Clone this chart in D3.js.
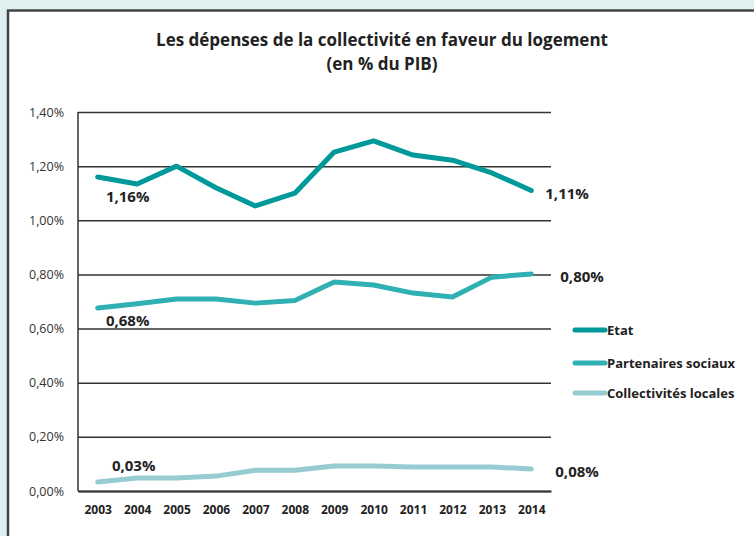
<!DOCTYPE html>
<html>
<head>
<meta charset="utf-8">
<script src="https://cdn.jsdelivr.net/npm/d3@7"></script>
<style>
  html, body { margin: 0; padding: 0; background: #dff0f0; }
  svg { display: block; font-family: "Open Sans", "Noto Sans", sans-serif; }
</style>
</head>
<body>
<div id="chart"></div>
<script>
const years = ["2003", "2004", "2005", "2006", "2007", "2008", "2009", "2010", "2011", "2012", "2013", "2014"];
const etat = [1.16, 1.134, 1.20, 1.12, 1.053, 1.10, 1.252, 1.293, 1.241, 1.222, 1.175, 1.11];
const partenaires = [0.676, 0.692, 0.709, 0.709, 0.694, 0.704, 0.772, 0.761, 0.731, 0.717, 0.79, 0.802];
const collectivites = [0.033, 0.048, 0.048, 0.055, 0.077, 0.077, 0.092, 0.092, 0.089, 0.089, 0.089, 0.081];
const yTicks = [0, 0.2, 0.4, 0.6, 0.8, 1.0, 1.2, 1.4];
const seriesNames = ["Etat", "Partenaires sociaux", "Collectivités locales"];
const seriesColors = ["#00999a", "#31b0b3", "#96ccd1"];

const W = 754, H = 536;
const margin = { top: 112, right: 203, bottom: 45, left: 78 };
const width = W - margin.left - margin.right;
const height = H - margin.top - margin.bottom;

const svg = d3.select("#chart").append("svg")
    .attr("width", W)
    .attr("height", H);

// panneau blanc
svg.append("rect")
    .attr("x", 8).attr("y", 10)
    .attr("width", W).attr("height", H)
    .attr("fill", "#fff");
svg.append("path")
    .attr("d", `M8,${H} V10.5 H${W}`)
    .attr("fill", "none")
    .attr("stroke", "#444")
    .attr("stroke-width", 2.5);

svg.append("text")
    .attr("x", 382).attr("y", 46)
    .attr("text-anchor", "middle")
    .style("font-size", "17px")
    .style("font-weight", "bold")
    .style("fill", "#222")
    .text("Les dépenses de la collectivité en faveur du logement");
svg.append("text")
    .attr("x", 382).attr("y", 70)
    .attr("text-anchor", "middle")
    .style("font-size", "17px")
    .style("font-weight", "bold")
    .style("fill", "#222")
    .text("(en % du PIB)");

const g = svg.append("g")
    .attr("transform", `translate(${margin.left},${margin.top})`);

const x = d3.scalePoint()
    .domain(years)
    .range([0, width])
    .padding(0.5);

const y = d3.scaleLinear()
    .domain([0, 1.4])
    .range([height, 0]);

const fmt = v => d3.format(".2f")(v).replace(".", ",") + "%";

// grille
g.append("g")
    .call(d3.axisLeft(y).tickValues(yTicks).tickSize(-width).tickFormat(fmt).tickPadding(14))
    .call(a => a.select(".domain").remove())
    .call(a => a.selectAll(".tick line").attr("stroke", "#333").attr("stroke-width", 1.5))
    .call(a => a.selectAll(".tick text")
        .style("font-size", "12.5px")
        .style("fill", "#333")
        .style("font-family", "'Open Sans', sans-serif"));

g.append("line")
    .attr("x1", 0).attr("x2", 0)
    .attr("y1", 0).attr("y2", height)
    .attr("stroke", "#333").attr("stroke-width", 1.5);

g.append("g")
    .attr("transform", `translate(0,${height})`)
    .call(d3.axisBottom(x).tickSize(0).tickPadding(14))
    .call(a => a.select(".domain").attr("stroke", "#333").attr("stroke-width", 2))
    .call(a => a.selectAll("text")
        .style("font-size", "12px")
        .style("font-weight", "bold")
        .style("fill", "#222")
        .style("font-family", "'Open Sans', sans-serif"));

const line = d3.line()
    .x((d, i) => x(years[i]))
    .y(d => y(d));

[collectivites, partenaires, etat].forEach((s, k) => {
    g.append("path")
        .datum(s)
        .attr("fill", "none")
        .attr("stroke", seriesColors[2 - k])
        .attr("stroke-width", 5)
        .attr("stroke-linecap", "round")
        .attr("stroke-linejoin", "round")
        .attr("d", line);
});

// étiquettes
const labels = [
    { s: etat, i: 0, dx: 30, dy: 25, anchor: "middle" },
    { s: etat, i: 11, dx: 14, dy: 8, anchor: "start" },
    { s: partenaires, i: 0, dx: 30, dy: 18, anchor: "middle" },
    { s: partenaires, i: 11, dx: 29, dy: 8, anchor: "start" },
    { s: collectivites, i: 0, dx: 36, dy: -11, anchor: "middle" },
    { s: collectivites, i: 11, dx: 24, dy: 8, anchor: "start" }
];
g.selectAll(".lbl")
    .data(labels)
    .enter()
    .append("text")
    .attr("x", d => x(years[d.i]) + d.dx)
    .attr("y", d => y(d.s[d.i]) + d.dy)
    .attr("text-anchor", d => d.anchor)
    .style("font-size", "15px")
    .style("font-weight", "bold")
    .style("fill", "#222")
    .text(d => fmt(Math.round(d.s[d.i] * 100) / 100));

// légende
const leg = svg.append("g").attr("transform", "translate(573,330)");
seriesNames.forEach((n, i) => {
    const row = leg.append("g").attr("transform", `translate(0,${[0, 33, 63][i]})`);
    row.append("line")
        .attr("x1", 2).attr("x2", 32)
        .attr("stroke", seriesColors[i])
        .attr("stroke-width", 5)
        .attr("stroke-linecap", "round");
    row.append("text")
        .attr("x", 34).attr("y", 5)
        .style("font-size", "13px")
        .style("font-weight", "bold")
        .style("fill", "#222")
        .text(n);
});
</script>
</body>
</html>
